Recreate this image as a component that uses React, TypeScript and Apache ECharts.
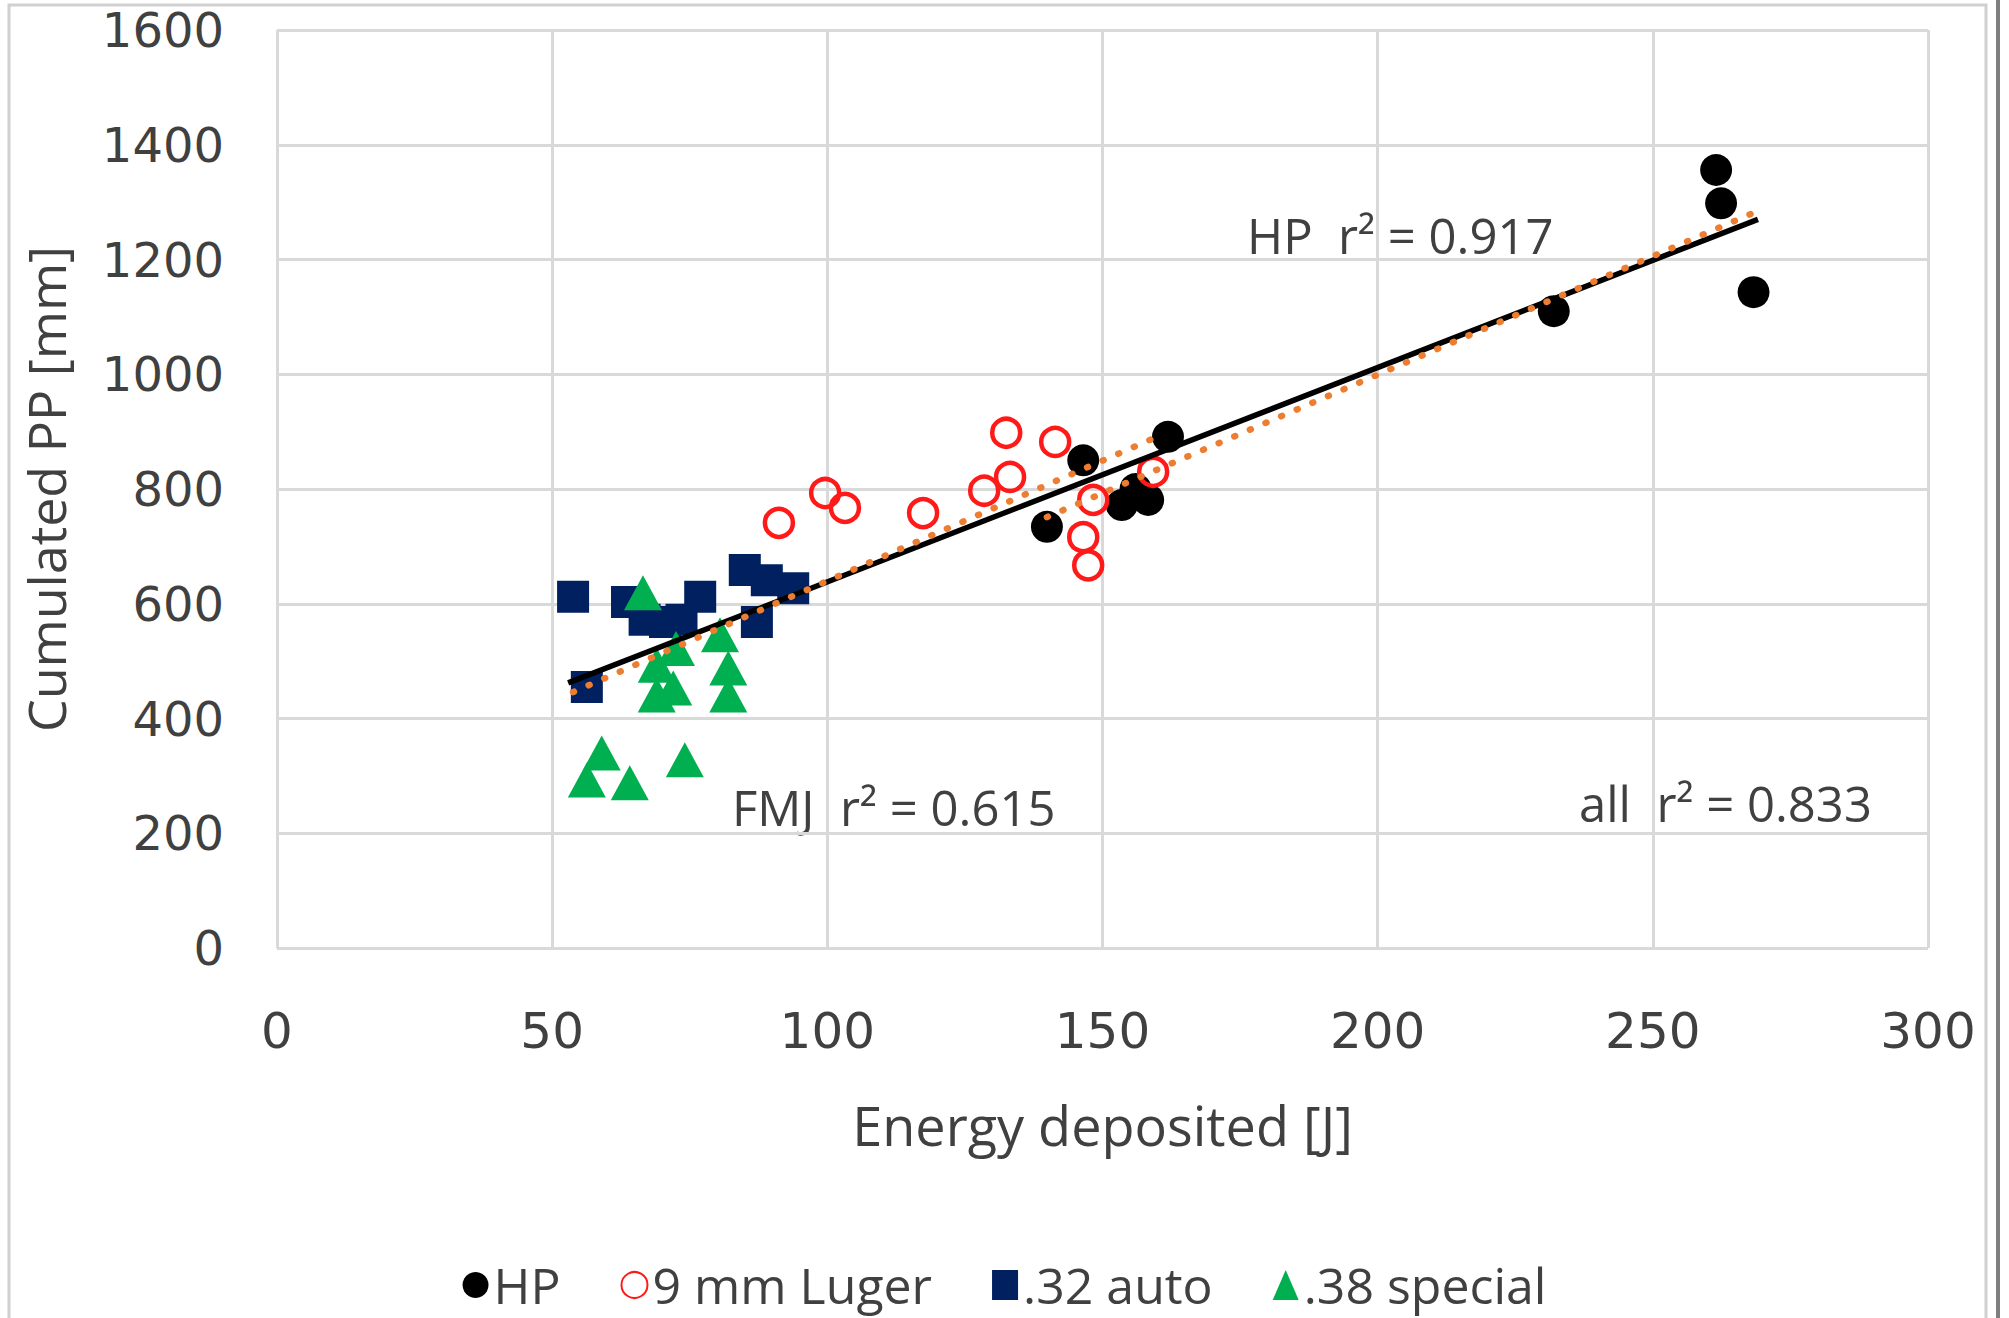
import React, { useEffect, useRef } from "react";
import * as echarts from "echarts";

// ---- data ----
const hpX = [139.9, 146.5, 153.5, 156.0, 158.3, 161.9, 232.0, 261.5, 262.4, 268.3];
const hpY = [734, 850, 772, 800, 781, 891, 1110, 1356, 1298, 1143];

const lugerX = [91.2, 99.6, 103.2, 117.4, 128.5, 132.5, 133.2, 141.4, 146.5, 147.4, 148.3, 159.2];
const lugerY = [741, 793, 767, 758, 797, 898, 821, 882, 716, 667, 781, 830];

const auto32X = [53.8, 56.3, 63.6, 66.8, 70.5, 73.5, 76.9, 85.0, 87.2, 89.0, 93.8];
const auto32Y = [612, 455, 603, 572, 568, 572, 612, 659, 568, 641, 627];

const special38X = [56.3, 59.0, 64.1, 66.5, 69.0, 69.0, 72.0, 72.5, 74.1, 80.5, 82.0, 82.0];
const special38Y = [293, 340, 288, 619, 493, 441, 453, 522, 328, 546, 488, 441];

// trend lines (end points)
const allTrendX = [52.9, 269.1];
const allTrendY = [462, 1270];
const fmjTrendX = [53.8, 159.2];
const fmjTrendY = [446, 888];
const hpTrendX = [139.9, 268.7];
const hpTrendY = [751, 1283];

const seriesNames = ["HP", "9 mm Luger", ".32 auto", ".38 special"];
const annotations = ["HP  r² = 0.917", "FMJ  r² = 0.615", "all  r² = 0.833"];

const pairs = (xs: number[], ys: number[]) => xs.map((x, i) => [x, ys[i]]);

export default function App() {
  const ref = useRef<HTMLDivElement>(null);
  useEffect(() => {
    document.body.style.margin = "0";
    const chart = echarts.init(ref.current!, undefined, { renderer: "svg" });
    const tickColor = "#404040";
    const annStyle = {
      fontFamily: "Open Sans",
      fontSize: 49,
      fill: "#404040",
      verticalAlign: "middle",
    };
    chart.setOption({
      animation: false,
      backgroundColor: "#ffffff",
      grid: { left: 277, top: 30, width: 1651, height: 918 },
      xAxis: {
        type: "value",
        min: 0,
        max: 300,
        interval: 50,
        axisLine: { show: false },
        axisTick: { show: false },
        splitLine: { show: true, lineStyle: { color: "#d9d9d9", width: 3 } },
        axisLabel: { fontFamily: "DejaVu Sans", fontSize: 50, color: tickColor, margin: 58 },
        name: "Energy deposited [J]",
        nameLocation: "middle",
        nameGap: 150,
        nameTextStyle: { fontFamily: "Open Sans", fontSize: 54, color: tickColor },
      },
      yAxis: {
        type: "value",
        min: 0,
        max: 1600,
        interval: 200,
        axisLine: { show: false },
        axisTick: { show: false },
        splitLine: { show: true, lineStyle: { color: "#d9d9d9", width: 3 } },
        axisLabel: {
          fontFamily: "DejaVu Sans",
          fontSize: 48,
          color: tickColor,
          margin: 53,
          formatter: (v: number) => String(v),
        },
        name: "Cumulated PP [mm]",
        nameLocation: "middle",
        nameGap: 206,
        nameTextStyle: { fontFamily: "Open Sans", fontSize: 52, color: tickColor },
      },
      legend: {
        data: seriesNames,
        left: "center",
        top: 1255,
        itemWidth: 26,
        itemHeight: 30,
        itemGap: 60,
        textStyle: { fontFamily: "Open Sans", fontSize: 50, color: tickColor },
      },
      series: [
        {
          name: seriesNames[0],
          type: "scatter",
          symbol: "circle",
          symbolSize: 32,
          itemStyle: { color: "#000000", opacity: 1 },
          data: pairs(hpX, hpY),
          z: 2,
        },
        {
          name: seriesNames[1],
          type: "scatter",
          symbol: "circle",
          symbolSize: 28,
          itemStyle: { color: "rgba(255,255,255,0)", borderColor: "#ff1a1a", borderWidth: 4.5, opacity: 1 },
          data: pairs(lugerX, lugerY),
          z: 2,
        },
        {
          name: seriesNames[2],
          type: "scatter",
          symbol: "rect",
          symbolSize: 32,
          itemStyle: { color: "#002060", opacity: 1 },
          data: pairs(auto32X, auto32Y),
          z: 2,
        },
        {
          name: seriesNames[3],
          type: "scatter",
          symbol: "triangle",
          symbolSize: [38, 35],
          itemStyle: { color: "#00b050", opacity: 1 },
          data: pairs(special38X, special38Y),
          z: 2,
        },
        {
          name: "all trend",
          type: "line",
          showSymbol: false,
          data: pairs(allTrendX, allTrendY),
          lineStyle: { color: "#000000", width: 5.5 },
          z: 3,
        },
        {
          name: "FMJ trend",
          type: "line",
          showSymbol: false,
          data: pairs(fmjTrendX, fmjTrendY),
          lineStyle: { color: "#ed7d31", width: 6.5, type: [1, 16], cap: "round" },
          z: 4,
        },
        {
          name: "HP trend",
          type: "line",
          showSymbol: false,
          data: pairs(hpTrendX, hpTrendY),
          lineStyle: { color: "#ed7d31", width: 6.5, type: [1, 16], cap: "round" },
          z: 4,
        },
      ],
      graphic: [
        {
          type: "rect",
          shape: { x: 9, y: 5, width: 1977, height: 1320 },
          style: { fill: "none", stroke: "#d0d0d0", lineWidth: 3 },
          silent: true,
        },
        {
          type: "line",
          shape: { x1: 1998, y1: 0, x2: 1998, y2: 1318 },
          style: { stroke: "#7f7f7f", lineWidth: 4 },
          silent: true,
        },
        { type: "text", x: 1247, y: 235, style: { ...annStyle, text: annotations[0] } },
        { type: "text", x: 732, y: 807, style: { ...annStyle, text: annotations[1] } },
        { type: "text", x: 1579, y: 803, style: { ...annStyle, text: annotations[2] } },
      ],
    });
    return () => chart.dispose();
  }, []);
  return <div ref={ref} style={{ width: 2009, height: 1318 }} />;
}
